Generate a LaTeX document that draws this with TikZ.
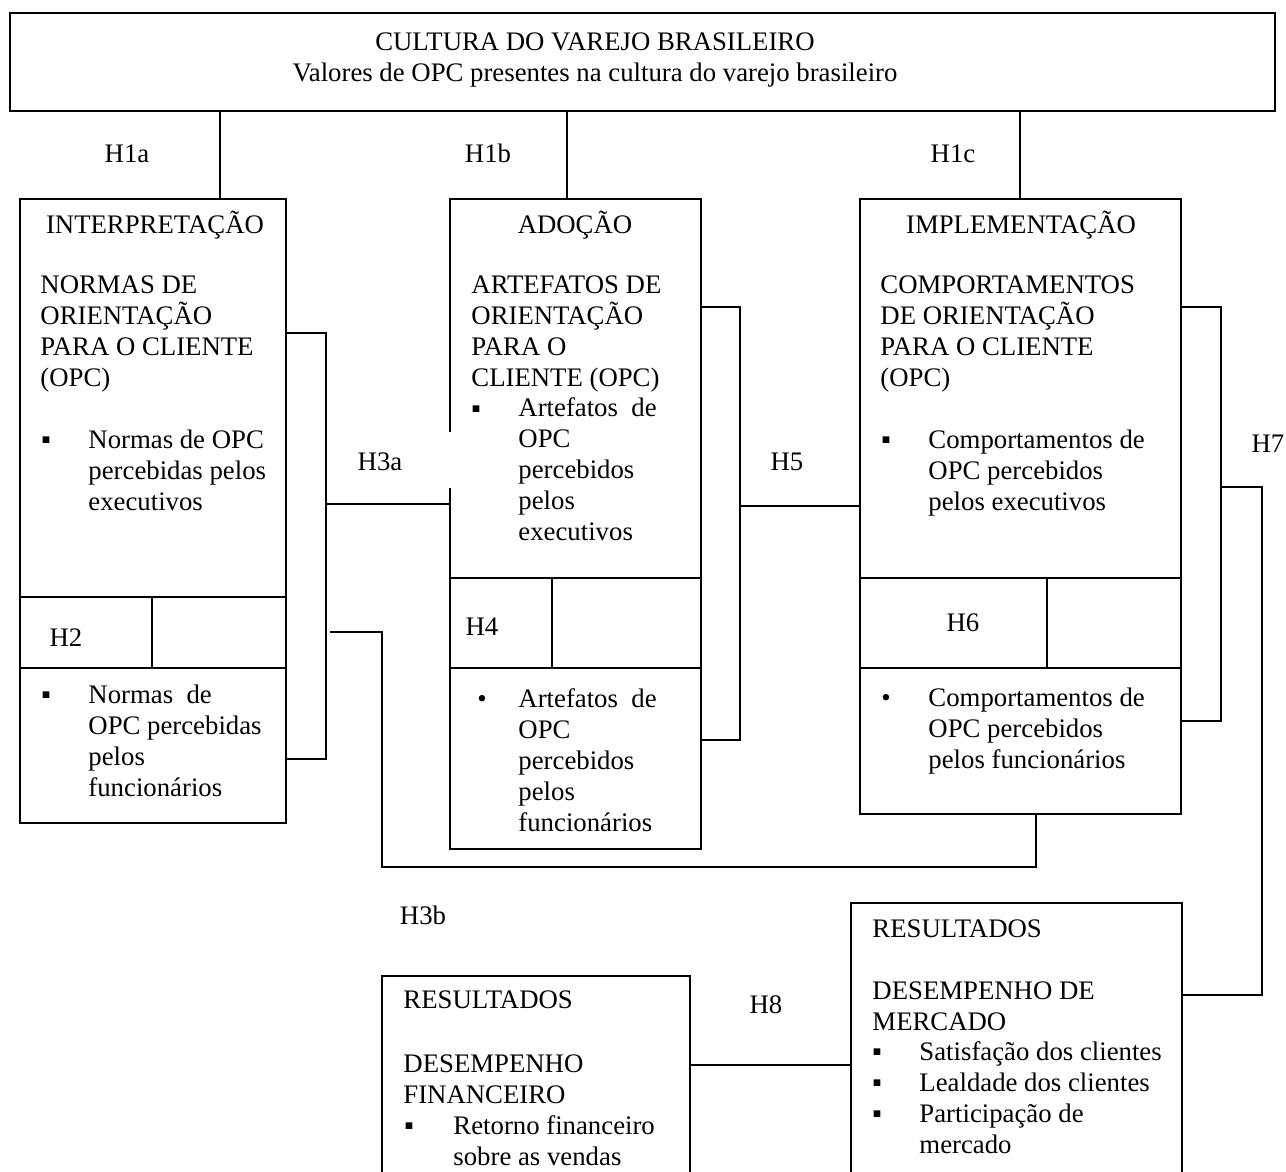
\documentclass[tikz,border=0pt]{standalone}
\usepackage{fontspec}
\setmainfont{Liberation Serif}
\usetikzlibrary{fit}

\tikzset{
  caixa/.style={draw, line width=0.85pt, inner sep=0pt},
  linha/.style={line width=0.85pt},
  rotulo/.style={anchor=base, inner sep=0pt},
  texto/.style={anchor=base west, align=left, inner sep=0pt},
  marca/.style={anchor=base, inner sep=0pt},
}

\begin{document}
\begin{tikzpicture}[x=0.4484pt, y=-0.4484pt, font=\fontsize{12}{13.9}\selectfont]
		\useasboundingbox (0,0) rectangle (1286,1171);
		\clip (0,0) rectangle (1286,1171);

		% caixas
		\node[caixa, fit={(10,13) (1275,111)}] (cultura) {};
		\node[caixa, fit={(20,199) (286,597)}] (interp) {};
		\node[caixa, fit={(20,597) (152,668)}] (hdois) {};
		\node[caixa, fit={(152,597) (286,668)}] (hdoisb) {};
		\node[caixa, fit={(20,668) (286,823)}] (normfunc) {};

		\node[caixa, fit={(450,199) (701,578)}] (adocao) {};
		\node[caixa, fit={(450,578) (552,668)}] (hquatro) {};
		\node[caixa, fit={(552,578) (701,668)}] (hquatrob) {};
		\node[caixa, fit={(450,668) (701,849)}] (artfunc) {};

		\node[caixa, fit={(860,199) (1181,578)}] (implem) {};
		\node[caixa, fit={(860,578) (1047,668)}] (hseis) {};
		\node[caixa, fit={(1047,578) (1181,668)}] (hseisb) {};
		\node[caixa, fit={(860,668) (1181,814)}] (compfunc) {};

		\node[caixa, fit={(851,903) (1182,1200)}] (mercado) {};
		\node[caixa, fit={(382,976) (690,1200)}] (financeiro) {};

		% pontos das ligacoes
		\coordinate (xa) at (220,0);
		\coordinate (xb) at (567,0);
		\coordinate (xc) at (1020,0);
		\coordinate (ja1) at (326,333);
		\coordinate (ja2) at (326,759);
		\coordinate (ja3) at (326,504);
		\coordinate (jb1) at (740,307);
		\coordinate (jb2) at (740,740);
		\coordinate (jb3) at (740,506);
		\coordinate (jc1) at (1221,307);
		\coordinate (jc2) at (1221,721);
		\coordinate (jc3) at (1221,487);
		\coordinate (jc4) at (1262,487);
		\coordinate (jc5) at (1262,995);
		\coordinate (jd1) at (330,632);
		\coordinate (jd2) at (382,632);
		\coordinate (jd3) at (382,867);
		\coordinate (jd4) at (1036,867);
		\coordinate (je) at (0,1065);
		\coordinate (gap1) at (0,432);
		\coordinate (gap2) at (0,488);

		% ligacoes
		\draw[linha] (cultura.south -| xa) -- (interp.north -| xa);
		\draw[linha] (cultura.south -| xb) -- (adocao.north -| xb);
		\draw[linha] (cultura.south -| xc) -- (implem.north -| xc);
		\draw[linha] (interp.east |- ja1) -- (ja1) -- (ja2) -- (normfunc.east |- ja2);
		\draw[linha] (ja3) -- (adocao.west |- ja3);
		\draw[linha] (adocao.east |- jb1) -- (jb1) -- (jb2) -- (artfunc.east |- jb2);
		\draw[linha] (jb3) -- (implem.west |- jb3);
		\draw[linha] (implem.east |- jc1) -- (jc1) -- (jc2) -- (compfunc.east |- jc2);
		\draw[linha] (jc3) -- (jc4) -- (jc5) -- (mercado.east |- jc5);
		\draw[linha] (jd1) -- (jd2) -- (jd3) -- (jd4) -- (compfunc.south -| jd4);
		\draw[linha] (financeiro.east |- je) -- (mercado.west |- je);
		\draw[white, line width=1.5pt] (adocao.west |- gap1) -- (adocao.west |- gap2);

		% textos (base = ultima linha)
		\node[rotulo, align=center] (tcultura) at (595,81) {CULTURA DO VAREJO BRASILEIRO\\Valores de OPC presentes na cultura do varejo brasileiro};

		\node[rotulo] (tinterp) at (155,233) {INTERPRETAÇÃO};
		\node[texto] (tnormas) at (40,386) {NORMAS DE\\ORIENTAÇÃO\\PARA O CLIENTE\\(OPC)};
		\node[marca] (bnormas) at (46,448) {▪};
		\node[texto] (tnormasexec) at (88,510) {Normas de OPC\\percebidas pelos\\executivos};
		\node[marca] (bnormasf) at (46,703) {▪};
		\node[texto] (tnormasfunc) at (88,796) {Normas\ \ de\\OPC percebidas\\pelos\\funcionários};

		\node[rotulo] (tadocao) at (575,233) {ADOÇÃO};
		\node[texto] (tartef) at (471,386) {ARTEFATOS DE\\ORIENTAÇÃO\\PARA O\\CLIENTE (OPC)};
		\node[marca] (bartef) at (476,417) {▪};
		\node[texto] (tartefexec) at (518,540) {Artefatos\ \ de\\OPC\\percebidos\\pelos\\executivos};
		\node[marca] (bartefb) at (482,707) {•};
		\node[texto] (tarteffunc) at (518,831) {Artefatos\ \ de\\OPC\\percebidos\\pelos\\funcionários};

		\node[rotulo] (timplem) at (1021,233) {IMPLEMENTAÇÃO};
		\node[texto] (tcomport) at (880,386) {COMPORTAMENTOS\\DE ORIENTAÇÃO\\PARA O CLIENTE\\(OPC)};
		\node[marca] (bcomport) at (886,448) {▪};
		\node[texto] (tcompexec) at (928,510) {Comportamentos de\\OPC percebidos\\pelos executivos};
		\node[marca] (bcomportb) at (886,706) {•};
		\node[texto] (tcompfunc) at (928,768) {Comportamentos de\\OPC percebidos\\pelos funcionários};

		\node[texto] (tresmerc) at (872,937) {RESULTADOS};
		\node[texto] (tdesmerc) at (872,1030) {DESEMPENHO DE\\MERCADO};
		\node[marca] (bmercA) at (877,1060) {▪};
		\node[marca] (bmercB) at (877,1091) {▪};
		\node[marca] (bmercC) at (877,1122) {▪};
		\node[texto] (tmerc) at (919,1153) {Satisfação dos clientes\\Lealdade dos clientes\\Participação de\\mercado};

		\node[texto] (tresfin) at (403,1008) {RESULTADOS};
		\node[texto] (tdesfin) at (403,1103) {DESEMPENHO\\FINANCEIRO};
		\node[marca] (bfin) at (409,1134) {▪};
		\node[texto] (tfin) at (453,1165) {Retorno financeiro\\sobre as vendas};

		% hipoteses
		\node[rotulo] (lhua) at (127,162) {H1a};
		\node[rotulo] (lhub) at (488,162) {H1b};
		\node[rotulo] (lhuc) at (953,162) {H1c};
		\node[rotulo] (lhdois) at (66,646) {H2};
		\node[rotulo] (lhtresa) at (380,470) {H3a};
		\node[rotulo] (lhtresb) at (423,924) {H3b};
		\node[rotulo] (lhquatro) at (482,635) {H4};
		\node[rotulo] (lhcinco) at (787,470) {H5};
		\node[rotulo] (lhseis) at (963,631) {H6};
		\node[rotulo] (lhsete) at (1268,452) {H7};
		\node[rotulo] (lhoito) at (766,1013) {H8};
	\end{tikzpicture}
\end{document}
